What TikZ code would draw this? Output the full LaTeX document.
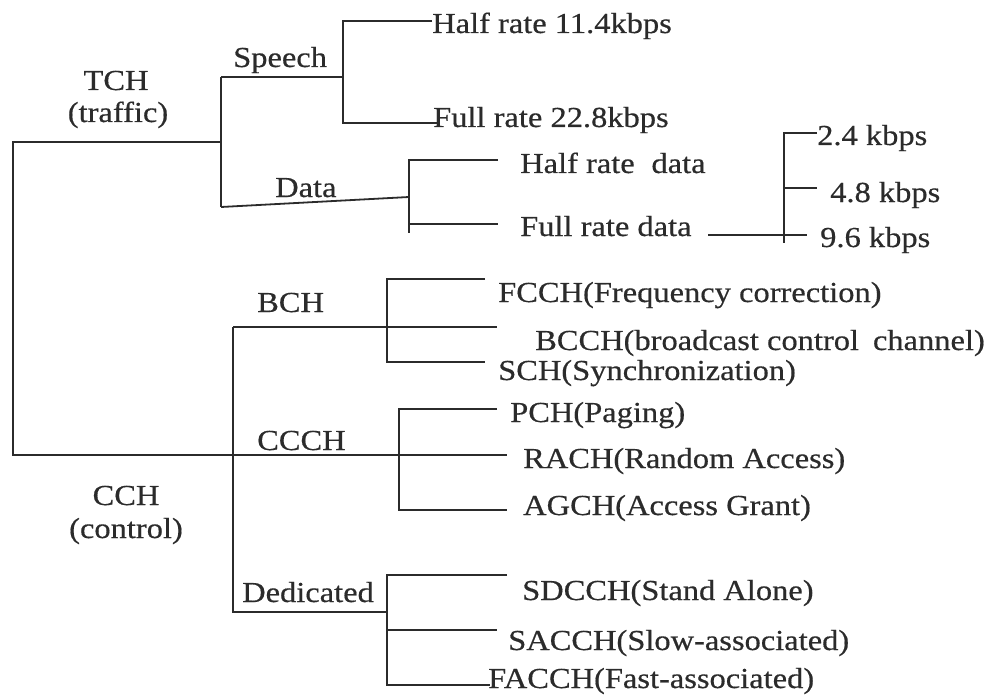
\documentclass[tikz,border=0pt]{standalone}
\usepackage{fontspec}
\setmainfont{Liberation Serif}[FakeStretch=1.12,FakeBold=0.5]
\definecolor{ink}{HTML}{2B2B2B}
\begin{document}
\begin{tikzpicture}[x=1pt,y=-1pt,
  wire/.style={draw=ink, line width=1.8pt},
  lbl/.style={anchor=base west, inner sep=0pt, text=ink,
              font=\fontsize{29}{32}\selectfont},
  clbl/.style={lbl, anchor=base}]
\useasboundingbox (0,0) rectangle (995,695);

% ---- junction and end points of the tree ----
\coordinate (root-top) at (13,142);
\coordinate (root-bot) at (13,455);
\coordinate (tch-j)    at (221,142);
\coordinate (tch-top)  at (221,77);
\coordinate (tch-bot)  at (221,207);
\coordinate (sp-mid)   at (343,77);
\coordinate (sp-top)   at (343,21);
\coordinate (sp-bot)   at (343,123);
\coordinate (hr-end)   at (432,21);
\coordinate (fr-end)   at (437,123);
\coordinate (dt-mid)   at (409,197);
\coordinate (dt-top)   at (409,160);
\coordinate (dt-low)   at (409,224);
\coordinate (dt-bot)   at (409,233);
\coordinate (hrd-end)  at (498,160);
\coordinate (frd-end)  at (498,224);
\coordinate (frd-out)  at (708,235);
\coordinate (rt-top)   at (784,133);
\coordinate (rt-mid)   at (784,188);
\coordinate (rt-bot)   at (784,243);
\coordinate (rt-out)   at (807,235);
\coordinate (r24-end)  at (817,133);
\coordinate (r48-end)  at (817,188);

\coordinate (cch-top)  at (233,327);
\coordinate (cch-bot)  at (233,612);
\coordinate (bch-top)  at (387,279);
\coordinate (bch-bot)  at (387,362);
\coordinate (fcch-end) at (485,279);
\coordinate (bcch-end) at (497,327);
\coordinate (sch-end)  at (485,362);
\coordinate (ccch-top) at (399,409);
\coordinate (ccch-bot) at (399,510);
\coordinate (pch-end)  at (497,409);
\coordinate (rach-end) at (507,455);
\coordinate (agch-end) at (507,510);
\coordinate (ded-top)  at (387,575);
\coordinate (ded-mid)  at (387,612);
\coordinate (ded-sac)  at (387,630);
\coordinate (ded-bot)  at (387,685);
\coordinate (sdcch-end) at (507,575);
\coordinate (sacch-end) at (497,630);
\coordinate (facch-end) at (490,685);

% ---- connectors ----
\draw[wire] (tch-j) -- (root-top) -- (root-bot) -- (rach-end);
\draw[wire] (tch-top) -- (tch-bot);
\draw[wire] (tch-top) -- (sp-mid);
\draw[wire] (hr-end) -- (sp-top) -- (sp-bot) -- (fr-end);
\draw[wire] (tch-bot) -- (dt-mid);
\draw[wire] (hrd-end) -- (dt-top) -- (dt-bot);
\draw[wire] (dt-low) -- (frd-end);
\draw[wire] (frd-out) -- (rt-out);
\draw[wire] (r24-end) -- (rt-top) -- (rt-bot);
\draw[wire] (rt-mid) -- (r48-end);

\draw[wire] (cch-top) -- (cch-bot) -- (ded-mid);
\draw[wire] (cch-top) -- (bcch-end);
\draw[wire] (fcch-end) -- (bch-top) -- (bch-bot) -- (sch-end);
\draw[wire] (pch-end) -- (ccch-top) -- (ccch-bot) -- (agch-end);
\draw[wire] (sdcch-end) -- (ded-top) -- (ded-bot) -- (facch-end);
\draw[wire] (ded-sac) -- (sacch-end);

% ---- group labels ----
\node[clbl] (tch)     at (116,90)  {TCH};
\node[clbl] (traffic) at (118,122) {(traffic)};
\node[lbl]  (speech)  at (233,67)  {Speech};
\node[lbl]  (data)    at (275,197) {Data};
\node[lbl]  (bch)     at (257,312) {BCH};
\node[lbl]  (ccch)    at (257,450) {CCCH};
\node[clbl] (cch)     at (126,505) {CCH};
\node[clbl] (control) at (126,538) {(control)};
\node[lbl]  (ded)     at (242,602) {Dedicated};

% ---- leaf labels ----
\node[lbl] (hr)    at (432,33)  {Half rate 11.4kbps};
\node[lbl] (fr)    at (433,127) {Full rate 22.8kbps};
\node[lbl] (hrd)   at (520,173) {Half rate \hspace{0.3em}data};
\node[lbl] (frd)   at (520,236) {Full rate data};
\node[lbl] (r24)   at (817,145) {2.4 kbps};
\node[lbl] (r48)   at (830,202) {4.8 kbps};
\node[lbl] (r96)   at (820,247) {9.6 kbps};
\node[lbl] (fcch)  at (498,302) {FCCH(Frequency correction)};
\node[lbl] (bcch)  at (535,350) {BCCH(broadcast control \hspace{0.2em}channel)};
\node[lbl] (sch)   at (498,380) {SCH(Synchronization)};
\node[lbl] (pch)   at (510,422) {PCH(Paging)};
\node[lbl] (rach)  at (523,468) {RACH(Random Access)};
\node[lbl] (agch)  at (523,515) {AGCH(Access Grant)};
\node[lbl] (sdcch) at (522,600) {SDCCH(Stand Alone)};
\node[lbl] (sacch) at (508,650) {SACCH(Slow-associated)};
\node[lbl] (facch) at (488,688) {FACCH(Fast-associated)};
\end{tikzpicture}
\end{document}
